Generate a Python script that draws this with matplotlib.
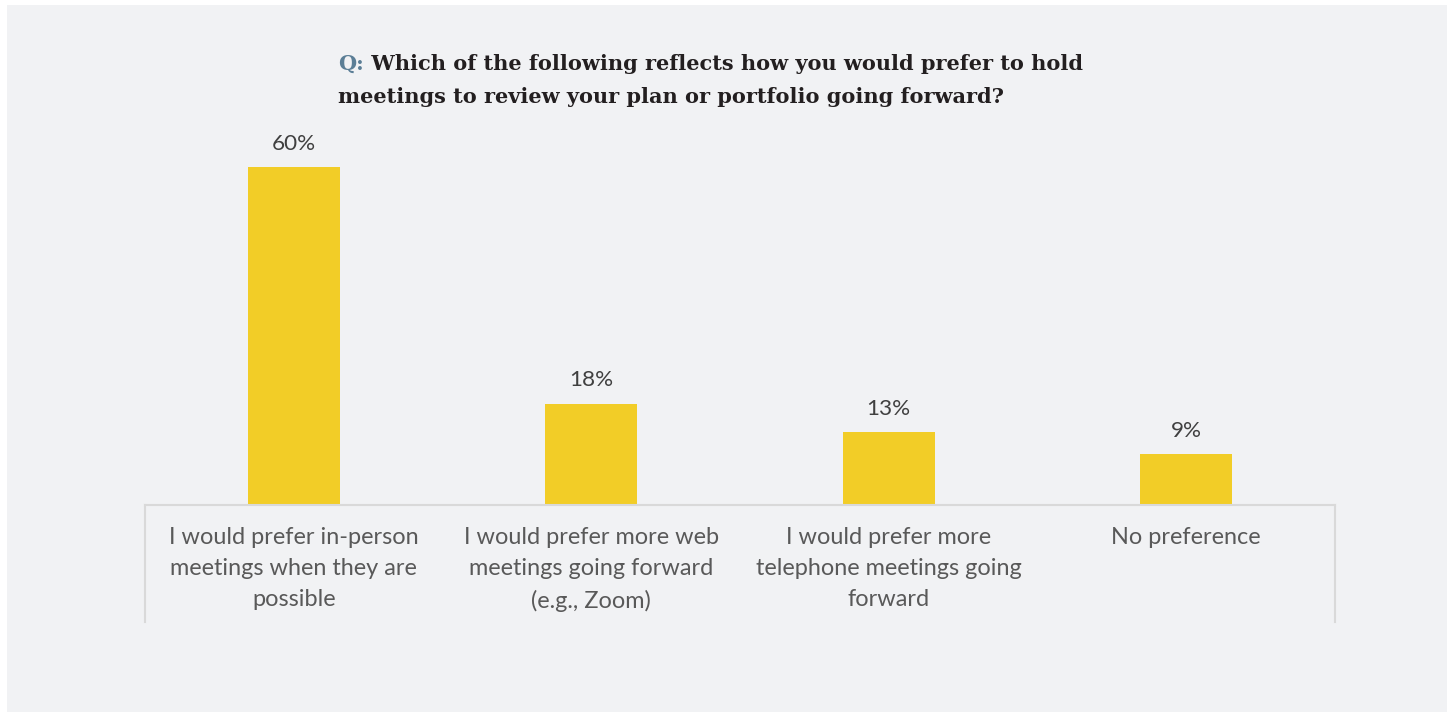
import matplotlib
matplotlib.use("Agg")
import matplotlib.pyplot as plt
from matplotlib.patches import Rectangle
from matplotlib.lines import Line2D

categories = [
    "I would prefer in-person\nmeetings when they are\npossible",
    "I would prefer more web\nmeetings going forward\n(e.g., Zoom)",
    "I would prefer more\ntelephone meetings going\nforward",
    "No preference",
]
values = [60, 18, 13, 9]
value_labels = ["60%", "18%", "13%", "9%"]
title_prefix = "Q:"
title_line1 = "Which of the following reflects how you would prefer to hold"
title_line2 = "meetings to review your plan or portfolio going forward?"

W, H, DPI = 1450, 713, 100
BG = "#f1f2f4"
BAR = "#f2cd27"
GRID = "#d9d9d9"
LABEL = "#595959"
VALUE = "#404040"
QBLUE = "#5b7e96"
TITLE = "#231f20"
SANS = ["Lato", "DejaVu Sans"]
SERIF = ["DejaVu Serif"]

fig = plt.figure(figsize=(W / DPI, H / DPI), dpi=DPI, facecolor="white")

# light panel behind everything
fig.patches.append(Rectangle((7 / W, 1 - 712 / H), (1447 - 7) / W, (712 - 5) / H,
                             transform=fig.transFigure, facecolor=BG,
                             edgecolor="none", zorder=-10))

ax_left, ax_right = 145, 1335
base_y = 505
px_per_unit = 5.63
ymax = 65
ax = fig.add_axes([ax_left / W, 1 - base_y / H, (ax_right - ax_left) / W,
                   ymax * px_per_unit / H])
ax.set_facecolor("none")
ax.set_zorder(5)

x = range(len(categories))
bars = ax.bar(x, values, width=0.31, color=BAR, zorder=2)
ax.set_xlim(-0.5, len(categories) - 0.5)
ax.set_ylim(0, ymax)

for rect, lab in zip(bars, value_labels):
    ax.annotate(lab, (rect.get_x() + rect.get_width() / 2, rect.get_height()),
                xytext=(0, 9.5), textcoords="offset points", ha="center",
                va="bottom", fontsize=16.2, color=VALUE, family=SANS)

for s in ("top", "left", "right"):
    ax.spines[s].set_visible(False)
ax.spines["bottom"].set_color(GRID)
ax.spines["bottom"].set_linewidth(1.5)
ax.set_yticks([])
ax.set_xticks(list(x))
ax.set_xticklabels(categories, fontsize=16.9, color=LABEL, family=SANS,
                   linespacing=1.58, va="top")
ax.tick_params(axis="x", length=0, pad=16.2)

# outer vertical frame lines below the baseline
drop = -(622 - base_y) / (ymax * px_per_unit)
for xe in (0, 1):
    ax.add_line(Line2D([xe, xe], [0, drop], transform=ax.transAxes,
                       color=GRID, lw=1.5, clip_on=False))

# two-colour title
tx, ty1, ty2 = 338 / W, 1 - 70 / H, 1 - 103 / H
q = fig.text(tx, ty1, title_prefix, color=QBLUE, fontsize=15,
             fontweight="bold", family=SERIF, va="baseline")
fig.canvas.draw()
bb = q.get_window_extent()
fig.text(bb.x1 / W, ty1, " " + title_line1, color=TITLE, fontsize=15,
         fontweight="bold", family=SERIF, va="baseline")
fig.text(tx, ty2, title_line2, color=TITLE, fontsize=15,
         fontweight="bold", family=SERIF, va="baseline")

fig.savefig("out.png", dpi=DPI, facecolor="white")
